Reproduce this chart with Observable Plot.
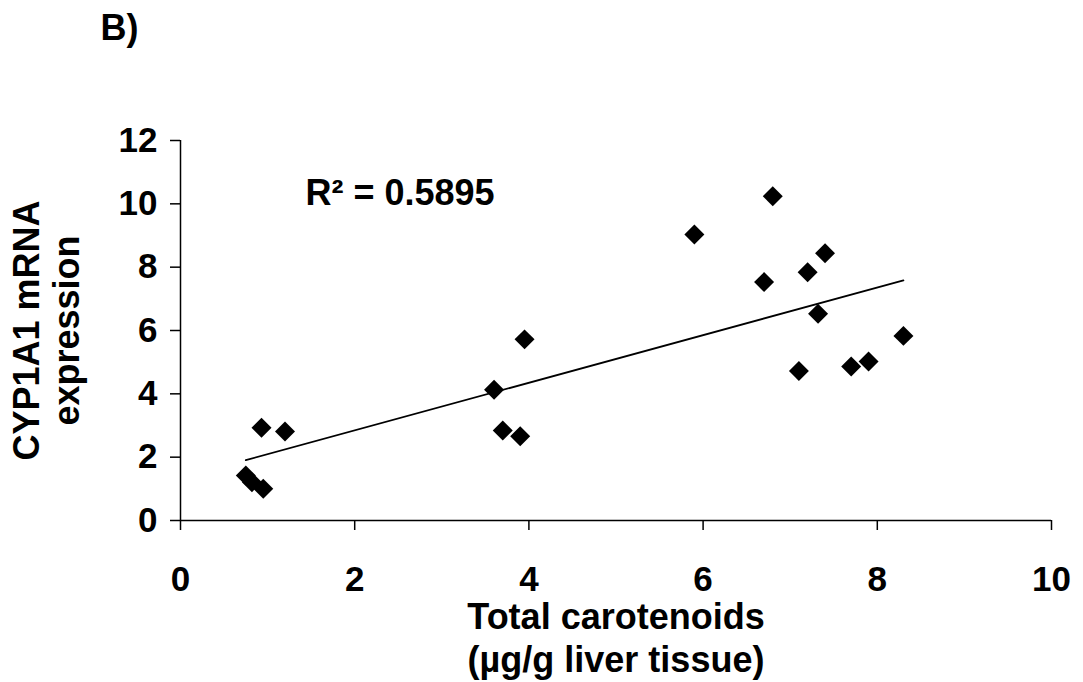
<!DOCTYPE html>
<html>
<head>
<meta charset="utf-8">
<script src="https://cdn.jsdelivr.net/npm/d3@7"></script>
<script src="https://cdn.jsdelivr.net/npm/@observablehq/plot@0.6"></script>
<style>
  html, body { margin: 0; padding: 0; background: #fff; }
</style>
</head>
<body>
<div id="chart"></div>
<script>
// Total carotenoids (µg/g liver tissue)
const carotenoids = [0.75, 0.82, 0.95, 0.93, 1.20, 3.60, 3.70, 3.90, 3.95, 5.90, 6.70, 6.80, 7.10, 7.20, 7.32, 7.40, 7.70, 7.90, 8.30];
// CYP1A1 mRNA expression
const expression = [1.42, 1.21, 1.00, 2.93, 2.81, 4.13, 2.84, 2.66, 5.72, 9.03, 7.53, 10.24, 4.72, 7.84, 6.53, 8.44, 4.86, 5.02, 5.83];

const xTicks = [0, 2, 4, 6, 8, 10];
const yTicks = [0, 2, 4, 6, 8, 10, 12];
const panelLabel = "B)";
const r2Label = "R² = 0.5895";
const xTitle = ["Total carotenoids", "(µg/g liver tissue)"];
const yTitle = ["CYP1A1 mRNA", "expression"];

const data = carotenoids.map((x, i) => ({x, y: expression[i]}));

const font = "'Liberation Sans', Arial, Helvetica, sans-serif";

const chart = Plot.plot({
  width: 1083,
  height: 682,
  marginLeft: 180,
  marginRight: 32,
  marginTop: 140,
  marginBottom: 162,
  style: {fontFamily: font, fontWeight: "bold", fontSize: "35px", color: "black", background: "white"},
  x: {domain: [0, 10], ticks: xTicks},
  y: {domain: [0, 12], ticks: yTicks},
  marks: [
    Plot.axisX({ticks: xTicks, tickSize: 10, tickPadding: 36, tickFormat: d => String(d), label: null, fontSize: 35, fontWeight: "bold", strokeWidth: 1.5}),
    Plot.axisY({ticks: yTicks, tickSize: 10, tickPadding: 13, tickFormat: d => String(d), label: null, fontSize: 35, fontWeight: "bold", strokeWidth: 1.5}),
    Plot.ruleY([0], {stroke: "black", strokeWidth: 1.5}),
    Plot.ruleX([0], {stroke: "black", strokeWidth: 1.5}),
    Plot.linearRegressionY(data, {x: "x", y: "y", ci: 0, stroke: "black", strokeWidth: 1.8}),
    Plot.dot(data, {x: "x", y: "y", symbol: "diamond2", r: 9, fill: "black", stroke: null}),
    Plot.text([r2Label], {text: d => d, frameAnchor: "top-left", dx: 125, dy: 53, textAnchor: "start", lineAnchor: "middle", fontSize: 36, fontWeight: "bold"}),
    Plot.text([panelLabel], {text: d => d, frameAnchor: "top-left", dx: -80, dy: -112, textAnchor: "start", lineAnchor: "middle", fontSize: 36, fontWeight: "bold"}),
    Plot.text([xTitle[0]], {text: d => d, frameAnchor: "bottom", dy: 97, textAnchor: "middle", lineAnchor: "middle", fontSize: 36, fontWeight: "bold"}),
    Plot.text([xTitle[1]], {text: d => d, frameAnchor: "bottom", dy: 140, textAnchor: "middle", lineAnchor: "middle", fontSize: 36, fontWeight: "bold"}),
    Plot.text([yTitle[0]], {text: d => d, frameAnchor: "left", dx: -153, dy: 0, rotate: -90, textAnchor: "middle", lineAnchor: "middle", fontSize: 36, fontWeight: "bold"}),
    Plot.text([yTitle[1]], {text: d => d, frameAnchor: "left", dx: -113, dy: 0, rotate: -90, textAnchor: "middle", lineAnchor: "middle", fontSize: 36, fontWeight: "bold"})
  ]
});
document.getElementById("chart").appendChild(chart);
</script>
</body>
</html>
